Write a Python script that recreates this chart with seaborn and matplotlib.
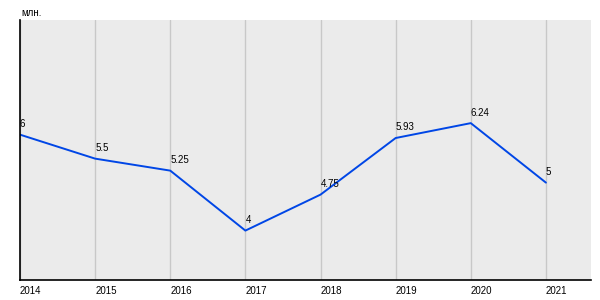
import matplotlib
matplotlib.use("Agg")
import matplotlib.pyplot as plt
import seaborn as sns
import pandas as pd

years = [2014, 2015, 2016, 2017, 2018, 2019, 2020, 2021]
values = [6, 5.5, 5.25, 4, 4.75, 5.93, 6.24, 5]
labels = ["6", "5.5", "5.25", "4", "4.75", "5.93", "6.24", "5"]
unit = "млн."

sns.set_theme(style="white")
plt.rcParams['font.family'] = ['Liberation Sans', 'DejaVu Sans']

df = pd.DataFrame({"year": years, "value": values})

fig = plt.figure(figsize=(6, 3), dpi=100)
ax = fig.add_axes([20/600, 1 - 280/300, 571/600, 260/300])
ax.set_facecolor("#EBEBEB")

sns.lineplot(data=df, x="year", y="value", ax=ax, color="#0046E6", linewidth=1.4)

ax.set_xlim(2014, 2021.6)
ax.set_ylim(2.97, 8.39)
ax.set_xticks(years)
ax.set_xticklabels([str(y) for y in years], fontsize=7, color="black")
ax.set_yticks([])
ax.xaxis.grid(True, color="#C8C8C8", linewidth=1)
ax.set_axisbelow(True)
ax.tick_params(axis="x", length=0, pad=4)
for t in ax.get_xticklabels():
    t.set_horizontalalignment("left")
ax.set_xlabel("")
ax.set_ylabel("")

for s in ["top", "right"]:
    ax.spines[s].set_visible(False)
for s in ["left", "bottom"]:
    ax.spines[s].set_visible(True)
    ax.spines[s].set_color("black")
    ax.spines[s].set_linewidth(1.2)

for x, y, lab in zip(years, values, labels):
    ax.annotate(lab, (x, y), xytext=(0, 4), textcoords="offset points",
                ha="left", va="bottom", fontsize=7, color="black")

fig.text(21/600, 1 - 16/300, unit, fontsize=7, color="black", ha="left", va="baseline")

fig.savefig("out.png", dpi=100)
